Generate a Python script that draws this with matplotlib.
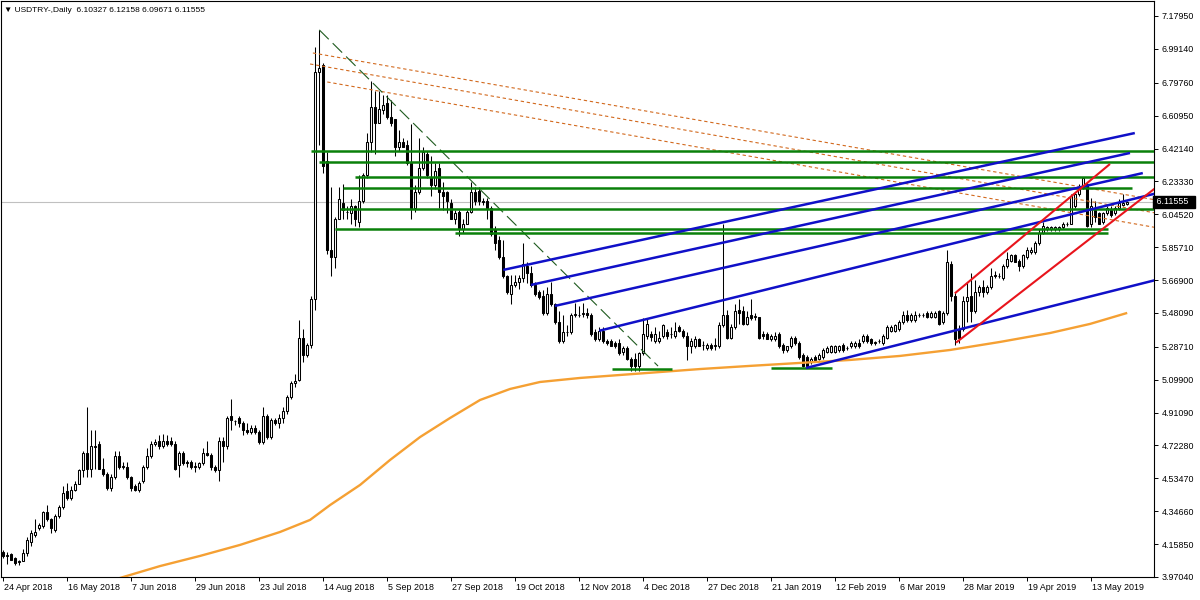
import matplotlib
matplotlib.use("Agg")
import matplotlib.pyplot as plt
import matplotlib.transforms as mtransforms
import numpy as np

plt.rcParams['font.family'] = ['Liberation Sans', 'DejaVu Sans']

# daily candles, USDTRY, 24 Apr 2018 .. 24 May 2019 (one value per bar)
opens = [
    4.115, 4.09, 4.10, 4.08, 4.055, 4.06, 4.11, 4.17, 4.21, 4.25, 4.26, 4.34, 4.30, 4.24, 4.32, 4.37,
    4.46, 4.42, 4.47, 4.50, 4.58, 4.68, 4.59, 4.72, 4.73, 4.59, 4.56, 4.48, 4.54, 4.66, 4.60, 4.60,
    4.54, 4.49, 4.47, 4.52, 4.60, 4.66, 4.73, 4.75, 4.72, 4.75, 4.75, 4.73, 4.61, 4.68, 4.63, 4.63,
    4.60, 4.60, 4.62, 4.68, 4.67, 4.60, 4.58, 4.75, 4.72, 4.89, 4.86, 4.88, 4.85, 4.81, 4.80, 4.82,
    4.80, 4.74, 4.89, 4.77, 4.87, 4.85, 4.88, 4.92, 5.00, 5.08, 5.10, 5.34, 5.24, 5.30, 5.56, 6.86,
    6.90, 6.35, 5.84, 5.80, 6.02, 6.11, 6.06, 6.05, 6.09, 6.00, 6.12, 6.27, 6.46, 6.66, 6.57, 6.64,
    6.68, 6.60, 6.59, 6.43, 6.46, 6.44, 6.34, 6.08, 6.17, 6.31, 6.39, 6.26, 6.21, 6.31, 6.17, 6.17,
    6.11, 6.02, 6.06, 5.96, 5.99, 6.06, 6.17, 6.18, 6.12, 6.12, 6.08, 5.96, 5.90, 5.80, 5.69, 5.59,
    5.64, 5.66, 5.68, 5.75, 5.71, 5.64, 5.60, 5.58, 5.48, 5.59, 5.53, 5.43, 5.32, 5.37, 5.37, 5.47,
    5.47, 5.475, 5.48, 5.47, 5.37, 5.33, 5.38, 5.32, 5.32, 5.31, 5.31, 5.26, 5.28, 5.22, 5.22, 5.18,
    5.25, 5.35, 5.36, 5.32, 5.32, 5.35, 5.37, 5.36, 5.35, 5.40, 5.38, 5.35, 5.29, 5.29, 5.33, 5.30,
    5.28, 5.30, 5.29, 5.29, 5.41, 5.47, 5.34, 5.40, 5.50, 5.49, 5.42, 5.47, 5.46, 5.46, 5.36, 5.36,
    5.33, 5.33, 5.36, 5.30, 5.27, 5.29, 5.34, 5.31, 5.24, 5.23, 5.20, 5.23, 5.22, 5.23, 5.26, 5.26,
    5.26, 5.27, 5.30, 5.28, 5.29, 5.29, 5.31, 5.32, 5.35, 5.33, 5.31, 5.32, 5.31, 5.34, 5.38, 5.38,
    5.39, 5.43, 5.47, 5.44, 5.44, 5.47, 5.47, 5.48, 5.46, 5.46, 5.49, 5.43, 5.48, 5.76, 5.58, 5.39,
    5.39, 5.55, 5.58, 5.49, 5.60, 5.63, 5.60, 5.63, 5.70, 5.69, 5.68, 5.75, 5.78, 5.81, 5.78, 5.75,
    5.80, 5.83, 5.83, 5.88, 5.94, 5.96, 5.96, 5.96, 5.96, 5.97, 5.99, 5.99, 6.09, 6.16, 6.20, 6.22,
    5.99, 6.07, 6.05, 6.00, 6.05, 6.07, 6.05, 6.08, 6.10, 6.10327,
]
highs = [
    4.125, 4.115, 4.105, 4.085, 4.07, 4.13, 4.20, 4.24, 4.30, 4.28, 4.35, 4.38, 4.31, 4.33, 4.38, 4.49,
    4.51, 4.49, 4.52, 4.59, 4.69, 4.94, 4.81, 4.81, 4.75, 4.65, 4.57, 4.56, 4.69, 4.69, 4.63, 4.63,
    4.55, 4.50, 4.52, 4.61, 4.71, 4.75, 4.76, 4.78, 4.79, 4.78, 4.77, 4.75, 4.69, 4.69, 4.64, 4.64,
    4.63, 4.63, 4.71, 4.75, 4.68, 4.61, 4.77, 4.77, 4.89, 4.99, 4.87, 4.89, 4.86, 4.85, 4.84, 4.84,
    4.81, 4.94, 4.90, 4.88, 4.88, 4.90, 4.94, 5.01, 5.09, 5.13, 5.44, 5.39, 5.31, 5.58, 7.00, 7.10,
    6.91, 6.40, 6.20, 6.03, 6.20, 6.22, 6.09, 6.13, 6.10, 6.27, 6.28, 6.51, 6.81, 6.75, 6.75, 6.73,
    6.73, 6.70, 6.59, 6.53, 6.48, 6.47, 6.56, 6.21, 6.48, 6.43, 6.41, 6.38, 6.34, 6.34, 6.23, 6.18,
    6.13, 6.07, 6.07, 6.02, 6.07, 6.23, 6.20, 6.20, 6.14, 6.14, 6.09, 5.98, 5.92, 5.90, 5.70, 5.70,
    5.70, 5.70, 5.88, 5.77, 5.75, 5.66, 5.61, 5.61, 5.63, 5.66, 5.54, 5.49, 5.47, 5.41, 5.48, 5.54,
    5.52, 5.54, 5.51, 5.48, 5.39, 5.40, 5.40, 5.33, 5.33, 5.32, 5.33, 5.29, 5.29, 5.23, 5.25, 5.26,
    5.45, 5.45, 5.38, 5.40, 5.38, 5.42, 5.39, 5.40, 5.43, 5.41, 5.39, 5.37, 5.34, 5.35, 5.34, 5.32,
    5.31, 5.31, 5.34, 5.43, 5.99, 5.50, 5.42, 5.53, 5.56, 5.52, 5.49, 5.56, 5.48, 5.46, 5.38, 5.37,
    5.36, 5.37, 5.37, 5.31, 5.29, 5.35, 5.35, 5.32, 5.25, 5.24, 5.23, 5.24, 5.25, 5.28, 5.29, 5.30,
    5.30, 5.30, 5.31, 5.29, 5.32, 5.32, 5.33, 5.36, 5.36, 5.34, 5.32, 5.33, 5.36, 5.41, 5.41, 5.42,
    5.44, 5.49, 5.50, 5.48, 5.49, 5.48, 5.48, 5.49, 5.49, 5.49, 5.50, 5.49, 5.84, 5.78, 5.60, 5.41,
    5.58, 5.66, 5.71, 5.67, 5.64, 5.67, 5.64, 5.74, 5.72, 5.71, 5.76, 5.83, 5.82, 5.82, 5.79, 5.82,
    5.86, 5.86, 5.89, 5.96, 6.00, 5.98, 5.98, 5.98, 5.98, 6.00, 6.00, 6.16, 6.17, 6.22, 6.26, 6.23,
    6.14, 6.12, 6.06, 6.06, 6.09, 6.09, 6.09, 6.13, 6.16, 6.12158,
]
lows = [
    4.08, 4.045, 4.07, 4.04, 4.04, 4.06, 4.09, 4.15, 4.20, 4.24, 4.25, 4.29, 4.22, 4.23, 4.31, 4.36,
    4.41, 4.41, 4.46, 4.50, 4.54, 4.54, 4.54, 4.59, 4.59, 4.55, 4.47, 4.46, 4.53, 4.59, 4.59, 4.53,
    4.46, 4.465, 4.455, 4.51, 4.59, 4.65, 4.72, 4.70, 4.71, 4.72, 4.72, 4.58, 4.54, 4.61, 4.60, 4.59,
    4.57, 4.59, 4.61, 4.66, 4.58, 4.57, 4.52, 4.63, 4.70, 4.81, 4.84, 4.83, 4.78, 4.79, 4.79, 4.79,
    4.73, 4.73, 4.76, 4.76, 4.84, 4.82, 4.85, 4.90, 4.99, 5.06, 5.09, 5.20, 5.23, 5.28, 5.50, 6.44,
    6.28, 5.82, 5.69, 5.74, 6.02, 6.02, 6.02, 5.99, 5.98, 5.97, 6.11, 6.25, 6.40, 6.39, 6.57, 6.62,
    6.59, 6.55, 6.38, 6.41, 6.43, 6.33, 6.02, 6.06, 6.16, 6.30, 6.25, 6.15, 6.19, 6.08, 6.07, 6.05,
    6.02, 5.99, 5.92, 5.94, 5.99, 6.05, 6.10, 6.10, 6.10, 6.02, 5.92, 5.84, 5.79, 5.68, 5.59, 5.53,
    5.63, 5.62, 5.66, 5.65, 5.63, 5.58, 5.56, 5.47, 5.47, 5.52, 5.42, 5.31, 5.31, 5.35, 5.36, 5.46,
    5.46, 5.46, 5.45, 5.35, 5.32, 5.32, 5.31, 5.30, 5.29, 5.28, 5.24, 5.24, 5.21, 5.15, 5.15, 5.15,
    5.24, 5.33, 5.32, 5.31, 5.31, 5.34, 5.33, 5.34, 5.34, 5.37, 5.34, 5.21, 5.25, 5.28, 5.29, 5.27,
    5.27, 5.27, 5.27, 5.28, 5.40, 5.33, 5.33, 5.39, 5.42, 5.41, 5.41, 5.44, 5.44, 5.33, 5.33, 5.33,
    5.32, 5.32, 5.28, 5.25, 5.26, 5.28, 5.30, 5.22, 5.17, 5.17, 5.19, 5.20, 5.21, 5.22, 5.25, 5.25,
    5.25, 5.26, 5.26, 5.27, 5.28, 5.28, 5.28, 5.31, 5.31, 5.30, 5.30, 5.31, 5.30, 5.33, 5.37, 5.37,
    5.38, 5.42, 5.43, 5.43, 5.43, 5.46, 5.46, 5.45, 5.45, 5.45, 5.41, 5.42, 5.47, 5.55, 5.30, 5.31,
    5.38, 5.43, 5.43, 5.48, 5.58, 5.57, 5.59, 5.62, 5.68, 5.68, 5.67, 5.74, 5.77, 5.77, 5.72, 5.74,
    5.79, 5.82, 5.82, 5.87, 5.93, 5.95, 5.95, 5.95, 5.95, 5.96, 5.98, 5.99, 6.08, 6.15, 6.19, 5.97,
    5.97, 6.00, 5.99, 5.99, 6.04, 6.03, 6.04, 6.07, 6.09, 6.09671,
]
closes = [
    4.09, 4.095, 4.07, 4.05, 4.06, 4.11, 4.18, 4.22, 4.23, 4.27, 4.34, 4.30, 4.25, 4.32, 4.37, 4.45,
    4.42, 4.47, 4.50, 4.58, 4.68, 4.59, 4.72, 4.715, 4.59, 4.56, 4.48, 4.54, 4.66, 4.60, 4.605, 4.54,
    4.48, 4.47, 4.51, 4.60, 4.66, 4.73, 4.74, 4.72, 4.75, 4.73, 4.73, 4.59, 4.68, 4.62, 4.625, 4.60,
    4.605, 4.62, 4.68, 4.67, 4.60, 4.58, 4.75, 4.72, 4.88, 4.87, 4.86, 4.85, 4.81, 4.80, 4.82, 4.80,
    4.74, 4.89, 4.77, 4.87, 4.85, 4.88, 4.92, 5.00, 5.08, 5.09, 5.34, 5.24, 5.30, 5.56, 6.86, 6.88,
    6.32, 5.84, 5.80, 6.02, 6.13, 6.07, 6.06, 6.09, 6.02, 6.12, 6.27, 6.46, 6.66, 6.57, 6.65, 6.67,
    6.60, 6.57, 6.43, 6.46, 6.43, 6.34, 6.08, 6.17, 6.31, 6.40, 6.27, 6.21, 6.29, 6.17, 6.15, 6.12,
    6.02, 6.05, 5.96, 5.99, 6.06, 6.17, 6.12, 6.12, 6.115, 6.08, 5.93, 5.88, 5.80, 5.69, 5.60, 5.64,
    5.66, 5.68, 5.76, 5.71, 5.64, 5.59, 5.57, 5.48, 5.59, 5.53, 5.43, 5.32, 5.37, 5.37, 5.47, 5.475,
    5.47, 5.48, 5.47, 5.36, 5.33, 5.38, 5.32, 5.31, 5.29, 5.29, 5.25, 5.28, 5.22, 5.18, 5.18, 5.25,
    5.36, 5.42, 5.345, 5.36, 5.34, 5.41, 5.35, 5.36, 5.38, 5.38, 5.35, 5.29, 5.32, 5.33, 5.29, 5.30,
    5.30, 5.28, 5.295, 5.41, 5.47, 5.34, 5.40, 5.49, 5.48, 5.42, 5.46, 5.45, 5.465, 5.34, 5.35, 5.33,
    5.35, 5.35, 5.29, 5.27, 5.29, 5.34, 5.31, 5.23, 5.18, 5.18, 5.22, 5.21, 5.24, 5.27, 5.28, 5.29,
    5.29, 5.29, 5.27, 5.28, 5.31, 5.31, 5.29, 5.35, 5.32, 5.31, 5.315, 5.32, 5.35, 5.40, 5.40, 5.41,
    5.43, 5.47, 5.44, 5.47, 5.47, 5.47, 5.47, 5.46, 5.48, 5.48, 5.42, 5.48, 5.77, 5.58, 5.33, 5.34,
    5.55, 5.57, 5.49, 5.60, 5.63, 5.60, 5.63, 5.69, 5.69, 5.69, 5.75, 5.79, 5.81, 5.77, 5.75, 5.81,
    5.84, 5.84, 5.88, 5.94, 5.98, 5.97, 5.97, 5.97, 5.97, 5.99, 5.99, 6.15, 6.16, 6.20, 6.25, 5.98,
    6.09, 6.03, 5.99, 6.05, 6.08, 6.04, 6.08, 6.11, 6.11, 6.11555,
]
last_price = 6.11555

date_labels = ["24 Apr 2018", "16 May 2018", "7 Jun 2018", "29 Jun 2018", "23 Jul 2018",
               "14 Aug 2018", "5 Sep 2018", "27 Sep 2018", "19 Oct 2018", "12 Nov 2018",
               "4 Dec 2018", "27 Dec 2018", "21 Jan 2019", "12 Feb 2019", "6 Mar 2019",
               "28 Mar 2019", "19 Apr 2019", "13 May 2019"]
date_bars = list(range(0, 273, 16))

price_ticks = [7.17950, 6.99140, 6.79760, 6.60950, 6.42140, 6.23330, 6.04520, 5.85710,
               5.66900, 5.48090, 5.28710, 5.09900, 4.91090, 4.72280, 4.53470, 4.34660,
               4.15850, 3.97040]

# moving average (orange)
ma_bars = [28, 29.2, 39.2, 49.2, 59.2, 69.2, 76.7, 81.7, 89.2, 96.7, 104.2, 111.7, 119.2,
           126.7, 134.2, 144.2, 154.2, 164.2, 174.2, 186.7, 199.2, 211.7, 224.2, 236.7,
           249.2, 261.7, 271.7, 281]
ma_vals = [3.95, 3.965, 4.033, 4.091, 4.154, 4.228, 4.297, 4.382, 4.497, 4.640, 4.771, 4.880,
           4.983, 5.046, 5.086, 5.109, 5.126, 5.143, 5.160, 5.178, 5.195, 5.212, 5.235, 5.269,
           5.315, 5.366, 5.418, 5.481]

# horizontal levels (green): price, first bar, last bar
green_levels = [6.409, 6.344, 6.260, 6.198, 6.076, 5.963, 5.940, 5.160, 5.168]
green_from = [76.9, 79.0, 87.9, 84.9, 84.2, 82.9, 112.9, 152.1, 191.9]
green_to = [290, 290, 290, 282.2, 290, 276.2, 276.2, 167.1, 207.1]

# blue channel lines: (bar0, price0, bar1, price1)
blue_lines = [(125.0, 5.727, 282.9, 6.510),
              (131.9, 5.641, 281.7, 6.396),
              (137.9, 5.521, 284.9, 6.281),
              (149.0, 5.379, 290.0, 6.175),
              (200.7, 5.166, 290.0, 5.680)]
red_lines = [(237.9, 5.593, 276.7, 6.333),
             (238.2, 5.311, 290.0, 6.23)]
brown_lines = [(77.4, 6.968, 290.0, 6.12),
               (76.7, 6.905, 290.0, 6.045),
               (81.0, 6.802, 290.0, 5.962)]
dash_line = (79.0, 7.10, 163.7, 5.177)

fig = plt.figure(figsize=(12, 6), dpi=100)
fig.patch.set_facecolor("white")
ax = fig.add_axes([1 / 1200, 23 / 600, 1153 / 1200, 576 / 600])
ax.set_xlim(-0.575, 287.7)
ax.set_ylim(3.9704, 7.2653)

x = np.arange(len(closes))
o = np.array(opens)
h = np.array(highs)
l = np.array(lows)
c = np.array(closes)
up = c >= o

ax.axhline(last_price, color="#c0c0c0", lw=0.8, zorder=1)

ax.vlines(x, np.minimum(l, np.minimum(o, c)), np.maximum(h, np.maximum(o, c)),
          color="black", lw=0.75, zorder=2)
body_lo = np.minimum(o, c)
body_h = np.abs(c - o)
ax.bar(x[up], body_h[up], bottom=body_lo[up], width=0.55, color="white",
       edgecolor="black", linewidth=0.75, zorder=3)
ax.bar(x[~up], body_h[~up], bottom=body_lo[~up], width=0.55, color="black",
       edgecolor="black", linewidth=0.75, zorder=3)

ax.plot(ma_bars, ma_vals, color="#f5a033", lw=1.7, zorder=4, solid_capstyle="butt")

for x0, p0, x1, p1 in brown_lines:
    ax.plot([x0, x1], [p0, p1], color="#d2691e", lw=0.8, dashes=(3, 2.5), zorder=4)
ax.plot(dash_line[0::2], dash_line[1::2], color="#1e5a1e", lw=0.8, dashes=(12, 5), zorder=4)

for lev, b0, b1 in zip(green_levels, green_from, green_to):
    ax.plot([b0, b1], [lev, lev], color="#0a800a", lw=1.8, zorder=5, solid_capstyle="butt")
for x0, p0, x1, p1 in blue_lines:
    ax.plot([x0, x1], [p0, p1], color="#1010c8", lw=1.8, zorder=5, solid_capstyle="butt")
for x0, p0, x1, p1 in red_lines:
    ax.plot([x0, x1], [p0, p1], color="#e8141c", lw=1.5, zorder=5, solid_capstyle="butt")

# axes styling
for s in ax.spines.values():
    s.set_color("black")
    s.set_linewidth(0.8)
ax.yaxis.tick_right()
ax.set_yticks(price_ticks)
ax.set_yticklabels([f"{p:.5f}" for p in price_ticks])
ax.set_xticks(date_bars)
ax.set_xticklabels(date_labels, ha="left")
ax.tick_params(axis="both", direction="out", length=3, width=0.7, labelsize=6.4,
               colors="black")
ax.tick_params(axis="y", pad=2.5)
ax.tick_params(axis="x", pad=1.5)
shift = mtransforms.ScaledTranslation(1 / 100, 0, fig.dpi_scale_trans)
for lbl in ax.get_xticklabels():
    lbl.set_transform(lbl.get_transform() + shift)

# current price tag on the price scale
ax.text(1.0, last_price, " 6.11555  ", transform=ax.get_yaxis_transform(),
        ha="left", va="center", fontsize=6.4, color="white",
        bbox=dict(boxstyle="square,pad=0.15", facecolor="black", edgecolor="black"),
        zorder=10, clip_on=False)

fig.text(4 / 1200, 1 - 10 / 600, "\u25bc USDTRY-,Daily  6.10327 6.12158 6.09671 6.11555",
         ha="left", va="center", fontsize=6.0, color="black")

fig.savefig("out.png", dpi=100)
